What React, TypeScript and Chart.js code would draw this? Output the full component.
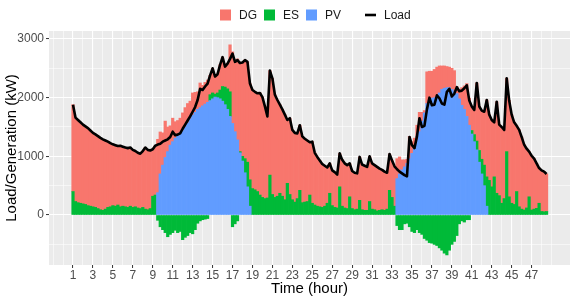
import React, { useEffect, useRef } from 'react';
import { Chart, registerables } from 'chart.js';

Chart.register(...registerables);

// Time axis: one bar every quarter hour, starting at hour 1
const START_HOUR = 1;
const STEP_HOURS = 0.25;

// Load (kW), one row per hour (quarter-hour samples)
const LOAD = [
  1880, 1660, 1620, 1580,
  1540, 1510, 1480, 1440,
  1400, 1375, 1345, 1315,
  1290, 1270, 1250, 1225,
  1205, 1190, 1175, 1180,
  1165, 1150, 1140, 1150,
  1110, 1090, 1060, 1045,
  1090, 1150, 1110, 1100,
  1120, 1180, 1200, 1215,
  1250, 1270, 1290, 1330,
  1420, 1360, 1370, 1390,
  1470, 1540, 1610, 1680,
  1760, 1840, 1960, 2150,
  2130, 2190, 2240, 2380,
  2500, 2360, 2400, 2560,
  2690, 2530, 2580, 2660,
  2750, 2610, 2640, 2590,
  2600, 2640, 2610, 2240,
  2130, 2100, 2075, 2080,
  2010, 1850, 1680, 2460,
  2330, 2050, 1960, 1880,
  1800, 1710, 1620, 1650,
  1450, 1400, 1390, 1530,
  1340, 1300, 1270, 1240,
  1250, 1060, 990, 930,
  870, 840, 810, 880,
  760, 730, 690, 1050,
  940, 880, 850, 880,
  750, 720, 710, 990,
  860, 840, 820, 1000,
  880, 850, 820, 790,
  770, 740, 720, 1040,
  930, 830, 780, 740,
  710, 680, 660, 1330,
  1190, 1140, 1340, 1650,
  1500, 1520, 1800, 2000,
  1870, 1880, 2040, 1990,
  1900, 1880, 2100, 2150,
  2020, 2070, 2180, 2110,
  2120, 2160, 2210, 1950,
  1850, 1790, 2250, 1850,
  1780, 1760, 1960, 1710,
  1620, 1580, 1930, 1540,
  1500, 1450, 2330, 1950,
  1710, 1580, 1520, 1450,
  1330, 1200, 1130, 1080,
  1010, 960, 880, 800,
  760, 740, 700,
];

// PV generation (kW)
const PV = [
  0, 0, 0, 0,
  0, 0, 0, 0,
  0, 0, 0, 0,
  0, 0, 0, 0,
  0, 0, 0, 0,
  0, 0, 0, 0,
  0, 0, 0, 0,
  0, 0, 0, 0,
  0, 0, 380, 700,
  850, 980, 1080, 1190,
  1250, 1310, 1350, 1400,
  1440, 1500, 1570, 1640,
  1700, 1750, 1800, 1830,
  1860, 1890, 1920, 1950,
  1980, 2010, 2000, 1980,
  1940, 1880, 1800, 1680,
  1560, 1420, 1280, 1060,
  920, 720, 480, 150,
  0, 0, 0, 0,
  0, 0, 0, 0,
  0, 0, 0, 0,
  0, 0, 0, 0,
  0, 0, 0, 0,
  0, 0, 0, 0,
  0, 0, 0, 0,
  0, 0, 0, 0,
  0, 0, 0, 0,
  0, 0, 0, 0,
  0, 0, 0, 0,
  0, 0, 0, 0,
  0, 0, 0, 0,
  0, 0, 0, 0,
  0, 0, 620, 700,
  770, 820, 880, 960,
  1050, 1160, 1280, 1420,
  1600, 1740, 1900, 1950,
  1990, 2000, 2020, 2080,
  2140, 2160, 2170, 2170,
  2140, 2110, 2070, 1980,
  1870, 1800, 1680, 1530,
  1380, 1250, 1110, 900,
  700, 500, 150, 0,
  0, 0, 0, 0,
  0, 0, 0, 0,
  0, 0, 0, 0,
  0, 0, 0, 0,
  0, 0, 0, 0,
  0, 0, 0,
];

// Energy storage (kW), negative = charging
const ES = [
  400, 230, 210, 200,
  190, 180, 160, 150,
  140, 130, 110, 90,
  80, 100, 130, 140,
  160, 150, 170, 140,
  150, 140, 130, 150,
  130, 140, 120, 110,
  130, 100, 90, 110,
  320, 340, -90, -200,
  -250, -300, -370, -330,
  -300, -260, -300, -280,
  -420, -380, -350, -300,
  -320, -250, -140, -100,
  -80, -70, -60, 100,
  100, 50, 80, 150,
  250, 300, 350, 420,
  -200, -150, -100, 20,
  80, 240, 420, 450,
  450, 430, 400, 340,
  300, 280, 290, 680,
  350, 300, 320, 370,
  320, 260, 540, 350,
  260, 220, 280, 420,
  210, 220, 230, 340,
  200, 170, 150, 140,
  130, 150, 200, 370,
  160, 130, 120, 480,
  150, 120, 110, 310,
  110, 90, 100, 250,
  90, 80, 80, 230,
  100, 90, 70, 80,
  90, 80, 100, 420,
  300, 150, -180, -250,
  -250, -150, -140, -200,
  -280, -300, -250, -300,
  -330, -400, -430, -470,
  -480, -500, -520, -560,
  -600, -650, -680, -600,
  -500, -450, -350, -150,
  -100, -120, -80, -80,
  60, 120, 150, 200,
  250, 350, 500, 590,
  480, 650, 370, 330,
  200, 280, 1080, 310,
  200, 180, 400, 140,
  100, 85, 120, 310,
  85, 100, 114, 200,
  60, 55, 60,
];

// Diesel generation (kW)
const DG = [
  1480, 1430, 1410, 1380,
  1350, 1330, 1320, 1290,
  1260, 1245, 1235, 1225,
  1210, 1170, 1120, 1085,
  1045, 1040, 1005, 1040,
  1015, 1010, 1010, 1000,
  980, 950, 940, 935,
  960, 1050, 1020, 990,
  800, 840, 910, 715,
  550, 620, 420, 330,
  400, 280, 260, 250,
  300, 330, 330, 300,
  380, 340, 300, 420,
  350, 370, 380, 330,
  420, 300, 320, 430,
  500, 350, 430, 800,
  1220, 1220, 1380, 1510,
  1600, 1680, 1710, 1640,
  1680, 1670, 1675, 1740,
  1710, 1570, 1390, 1780,
  1980, 1750, 1640, 1510,
  1480, 1450, 1080, 1300,
  1190, 1180, 1110, 1110,
  1130, 1080, 1040, 900,
  1050, 890, 840, 790,
  740, 690, 610, 510,
  600, 600, 570, 570,
  790, 760, 740, 570,
  640, 630, 610, 740,
  770, 760, 740, 770,
  780, 760, 750, 710,
  680, 660, 620, 620,
  630, 680, 340, 290,
  170, 120, 70, 380,
  200, 150, 250, 330,
  150, 40, 540, 500,
  460, 480, 500, 460,
  400, 380, 360, 350,
  360, 350, 120, 160,
  300, 400, 560, 460,
  410, 420, 990, 750,
  830, 910, 1310, 1120,
  1140, 930, 1560, 1210,
  1300, 1170, 1250, 1640,
  1510, 1400, 1120, 1310,
  1230, 1115, 1010, 770,
  925, 860, 766, 600,
  700, 685, 640,
];

// Axis ticks
const X_TICK_LABELS = [1, 3, 5, 7, 9, 11, 13, 15, 17, 19, 21, 23, 25, 27, 29, 31, 33, 35, 37, 39, 41, 43, 45, 47];
const X_GRID = [-1, 0, 1, 2, 3, 4, 5, 6, 7, 8, 9, 10, 11, 12, 13, 14, 15, 16, 17, 18, 19, 20, 21, 22, 23, 24, 25,
  26, 27, 28, 29, 30, 31, 32, 33, 34, 35, 36, 37, 38, 39, 40, 41, 42, 43, 44, 45, 46, 47, 48, 49];
const Y_TICK_LABELS = [0, 1000, 2000, 3000];
const Y_GRID = [-500, 0, 500, 1000, 1500, 2000, 2500, 3000];

const SERIES_NAMES = ['DG', 'ES', 'PV', 'Load'];
const COLORS = { DG: '#F8766D', ES: '#00BA38', PV: '#619CFF', Load: '#000000' };

const FONT = '"Liberation Sans", Arial, Helvetica, sans-serif';

const TIMES = LOAD.map((_, i) => START_HOUR + i * STEP_HOURS);
const toXY = (arr: number[], dropZero: boolean) =>
  arr.map((y, i) => ({ x: TIMES[i], y: dropZero && y === 0 ? null : y }));

const panelBg = {
  id: 'panelBg',
  beforeDraw(chart: any) {
    const { ctx, chartArea: a } = chart;
    ctx.save();
    ctx.fillStyle = '#EBEBEB';
    ctx.fillRect(a.left, a.top, a.right - a.left, a.bottom - a.top);
    ctx.restore();
  },
};

const ggLegend = {
  id: 'ggLegend',
  afterDraw(chart: any) {
    const ctx = chart.ctx;
    ctx.save();
    ctx.font = `12px ${FONT}`;
    ctx.textBaseline = 'middle';
    ctx.textAlign = 'left';
    const cy = 15;
    const boxX = [220, 264, 306];
    const textX = [239, 283, 325];
    for (let i = 0; i < 3; i++) {
      const name = SERIES_NAMES[i] as 'DG' | 'ES' | 'PV';
      ctx.fillStyle = COLORS[name];
      ctx.fillRect(boxX[i], cy - 5.5, 11, 11);
      ctx.fillStyle = '#1A1A1A';
      ctx.fillText(name, textX[i], cy + 0.5);
    }
    ctx.strokeStyle = COLORS.Load;
    ctx.lineWidth = 2.6;
    ctx.beginPath();
    ctx.moveTo(365, cy);
    ctx.lineTo(376, cy);
    ctx.stroke();
    ctx.fillStyle = '#1A1A1A';
    ctx.fillText(SERIES_NAMES[3], 384, cy + 0.5);
    ctx.restore();
  },
};

export default function App() {
  const ref = useRef<HTMLCanvasElement>(null);

  useEffect(() => {
    if (!ref.current) return;
    Chart.defaults.font.family = FONT;
    const barCommon = {
      type: 'bar' as const,
      stack: 'gen',
      barPercentage: 1,
      categoryPercentage: 1,
      borderWidth: 0,
      inflateAmount: 0.35,
    };
    const chart = new Chart(ref.current, {
      type: 'bar',
      data: {
        datasets: [
          {
            type: 'line',
            label: 'Load',
            data: toXY(LOAD, false) as any,
            borderColor: COLORS.Load,
            borderWidth: 2.6,
            pointRadius: 0,
            fill: false,
            tension: 0,
            stack: 'load',
            borderJoinStyle: 'round',
          } as any,
          { ...barCommon, label: 'PV', data: toXY(PV, true) as any, backgroundColor: COLORS.PV },
          { ...barCommon, label: 'ES', data: toXY(ES, true) as any, backgroundColor: COLORS.ES },
          { ...barCommon, label: 'DG', data: toXY(DG, true) as any, backgroundColor: COLORS.DG },
        ],
      },
      options: {
        responsive: false,
        animation: false,
        devicePixelRatio: 1,
        events: [],
        layout: { padding: { top: 31, right: 4, left: 0, bottom: 0 } },
        plugins: { legend: { display: false }, tooltip: { enabled: false } },
        scales: {
          x: {
            type: 'linear',
            min: -1.407,
            max: 50.85,
            stacked: true,
            offset: false,
            border: { display: false },
            grid: {
              offset: false,
              color: '#FFFFFF',
              lineWidth: (c: any) => (c.tick && X_TICK_LABELS.includes(c.tick.value) ? 1.1 : 0.55),
              drawTicks: true,
              tickLength: 3,
              tickWidth: 1,
              tickColor: (c: any) =>
                c.tick && X_TICK_LABELS.includes(c.tick.value) ? '#333333' : 'rgba(0,0,0,0)',
            },
            afterBuildTicks: (s: any) => {
              s.ticks = X_GRID.map((v) => ({ value: v }));
            },
            afterFit: (s: any) => {
              s.height = 34;
            },
            ticks: {
              autoSkip: false,
              maxRotation: 0,
              minRotation: 0,
              padding: 0,
              color: '#4D4D4D',
              font: { size: 12, family: FONT },
              callback: (v: any) => (X_TICK_LABELS.includes(Number(v)) ? String(v) : ''),
            },
            title: {
              display: true,
              text: 'Time (hour)',
              color: '#000000',
              font: { size: 15, family: FONT },
              padding: { top: 0, bottom: 1 },
            },
          },
          y: {
            type: 'linear',
            min: -852,
            max: 3136,
            stacked: true,
            border: { display: false },
            grid: {
              color: '#FFFFFF',
              lineWidth: (c: any) => (c.tick && Y_TICK_LABELS.includes(c.tick.value) ? 1.1 : 0.55),
              drawTicks: true,
              tickLength: 3,
              tickWidth: 1,
              tickColor: (c: any) =>
                c.tick && Y_TICK_LABELS.includes(c.tick.value) ? '#333333' : 'rgba(0,0,0,0)',
            },
            afterBuildTicks: (s: any) => {
              s.ticks = Y_GRID.map((v) => ({ value: v }));
            },
            afterFit: (s: any) => {
              s.width = 49;
            },
            ticks: {
              padding: 2,
              color: '#4D4D4D',
              font: { size: 12, family: FONT },
              callback: (v: any) => (Y_TICK_LABELS.includes(Number(v)) ? String(v) : ''),
            },
            title: {
              display: true,
              text: 'Load/Generation (kW)',
              color: '#000000',
              font: { size: 15, family: FONT },
              padding: { top: 3, bottom: 0 },
            },
          },
        },
      },
      plugins: [panelBg, ggLegend],
    } as any);
    return () => chart.destroy();
  }, []);

  return (
    <div style={{ position: 'absolute', left: 0, top: 0, width: 574, height: 299, background: '#FFFFFF' }}>
      <canvas ref={ref} width={574} height={299} style={{ display: 'block', width: 574, height: 299 }} />
    </div>
  );
}
